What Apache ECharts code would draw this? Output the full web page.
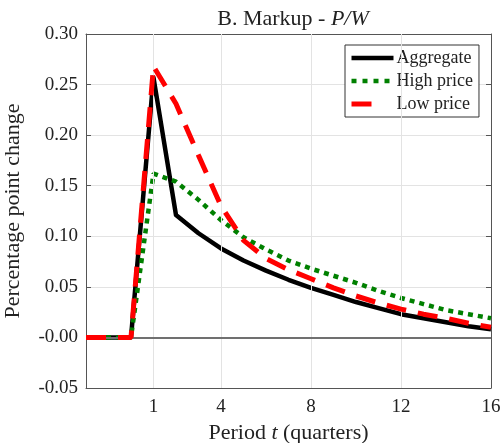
<!DOCTYPE html>
<html>
<head>
<meta charset="utf-8">
<script src="https://cdn.jsdelivr.net/npm/echarts@6/dist/echarts.min.js"></script>
<style>
  html, body { margin: 0; padding: 0; background: #fff; }
  #chart { width: 503px; height: 443px; }
</style>
</head>
<body>
<div id="chart"></div>
<script>
// Quarterly impulse responses of the markup P/W (percentage points)
const periods    = [-2, -1, 0, 1, 2, 3, 4, 5, 6, 7, 8, 9, 10, 11, 12, 13, 14, 15, 16];
const aggregate  = [0, 0, 0, 0.257, 0.121, 0.103, 0.088, 0.076, 0.066, 0.057, 0.049, 0.042, 0.035, 0.029, 0.023, 0.019, 0.015, 0.011, 0.008];
const highPrice  = [0, 0, 0, 0.162, 0.154, 0.136, 0.116, 0.099, 0.087, 0.076, 0.068, 0.061, 0.054, 0.046, 0.039, 0.033, 0.027, 0.023, 0.019];
const lowPrice   = [0, 0, 0, 0.268, 0.231, 0.180, 0.130, 0.096, 0.078, 0.067, 0.058, 0.049, 0.041, 0.034, 0.028, 0.023, 0.019, 0.014, 0.010];

const seriesNames = ['Aggregate', 'High price', 'Low price'];
const xTickValues = [1, 4, 8, 12, 16];
const yTickValues = [-0.05, 0, 0.05, 0.10, 0.15, 0.20, 0.25, 0.30];
const yTickLabels = ['-0.05', '-0.00', '0.05', '0.10', '0.15', '0.20', '0.25', '0.30'];

const FONT = '"Liberation Serif", "DejaVu Serif", serif';
const TEXT = '#222';
const toPairs = ys => periods.map((p, i) => [p, ys[i]]);
// legend markers are hidden so that each entry shows only its line style
const hiddenMarker = { color: 'rgba(0,0,0,0)', borderWidth: 0, opacity: 0 };

const chart = echarts.init(document.getElementById('chart'), null, { renderer: 'canvas' });

const frameColor = '#555';
const gridColor = '#e3e3e3';

chart.setOption({
  animation: false,
  backgroundColor: '#fff',
  title: {
    text: 'B. Markup - {i|P/W}',
    left: 288, textAlign: 'center', top: 3,
    textStyle: {
      fontFamily: FONT, fontSize: 22, fontWeight: 'normal', color: TEXT,
      rich: { i: { fontFamily: FONT, fontSize: 22, fontStyle: 'italic', color: TEXT } }
    }
  },
  grid: { left: 86, right: 12, top: 34, bottom: 55, containLabel: false, outerBoundsMode: 'none' },
  legend: {
    left: 345, top: 45, orient: 'vertical',
    backgroundColor: '#fff', borderColor: '#333', borderWidth: 1,
    padding: [4, 6, 4, 4], itemGap: 5, itemWidth: 42, itemHeight: 14,
    textStyle: { fontFamily: FONT, fontSize: 18, color: TEXT, padding: [0, 0, 0, -2] },
    itemStyle: hiddenMarker,
    data: [
      { name: seriesNames[0], itemStyle: hiddenMarker, lineStyle: { width: 4.5, cap: 'butt' } },
      { name: seriesNames[1], itemStyle: hiddenMarker, lineStyle: { width: 4.5, type: [5, 6], cap: 'butt' } },
      { name: seriesNames[2], itemStyle: hiddenMarker, lineStyle: { width: 5, type: [20, 40], cap: 'butt' } }
    ]
  },
  xAxis: [{
    type: 'value', min: -2, max: 16,
    name: 'Period {i|t} (quarters)', nameLocation: 'middle', nameGap: 34,
    nameTextStyle: {
      fontFamily: FONT, fontSize: 22, color: TEXT,
      rich: { i: { fontFamily: FONT, fontSize: 22, fontStyle: 'italic', color: TEXT } }
    },
    axisLine: { show: true, onZero: false, lineStyle: { color: frameColor, width: 1 } },
    axisTick: { show: true, inside: true, length: 5, customValues: xTickValues, lineStyle: { color: frameColor } },
    axisLabel: { customValues: xTickValues, fontFamily: FONT, fontSize: 19, color: TEXT, margin: 10 },
    splitLine: { show: false }
  }, {
    type: 'value', min: -2, max: 16, position: 'top',
    axisLine: { show: true, onZero: false, lineStyle: { color: frameColor, width: 1 } },
    axisTick: { show: true, inside: true, length: 5, customValues: xTickValues, lineStyle: { color: frameColor } },
    axisLabel: { show: false },
    splitLine: { show: false }
  }],
  yAxis: [{
    type: 'value', min: -0.05, max: 0.30, interval: 0.05,
    name: 'Percentage point change', nameLocation: 'middle', nameGap: 62, nameRotate: 90,
    nameTextStyle: { fontFamily: FONT, fontSize: 22, color: TEXT },
    axisLine: { show: true, onZero: false, lineStyle: { color: frameColor, width: 1 } },
    axisTick: { show: true, inside: true, length: 5, lineStyle: { color: frameColor } },
    axisLabel: {
      fontFamily: FONT, fontSize: 19, color: TEXT, margin: 8,
      formatter: v => {
        const k = yTickValues.findIndex(t => Math.abs(t - v) < 1e-9);
        return k >= 0 ? yTickLabels[k] : '';
      }
    },
    splitLine: { show: true, lineStyle: { color: gridColor, width: 1 } }
  }, {
    type: 'value', min: -0.05, max: 0.30, interval: 0.05, position: 'right',
    axisLine: { show: true, onZero: false, lineStyle: { color: frameColor, width: 1 } },
    axisTick: { show: true, inside: true, length: 5, lineStyle: { color: frameColor } },
    axisLabel: { show: false },
    splitLine: { show: false }
  }],
  series: [
    {
      // vertical grid lines at the period ticks and the zero reference line
      type: 'line', data: [], silent: true, xAxisIndex: 0, yAxisIndex: 0,
      markLine: {
        silent: true, symbol: 'none', label: { show: false },
        data: [
          ...xTickValues.slice(0, -1).map(v => ({ xAxis: v, lineStyle: { color: gridColor, width: 1, type: 'solid' } })),
          { yAxis: 0, lineStyle: { color: '#707070', width: 2, type: 'solid' } }
        ]
      }
    },
    {
      name: seriesNames[0], type: 'line', data: toPairs(aggregate),
      showSymbol: false, symbol: 'circle', z: 3,
      lineStyle: { color: '#000', width: 4.5, cap: 'butt', join: 'round' },
      itemStyle: { color: '#000' }
    },
    {
      name: seriesNames[1], type: 'line', data: toPairs(highPrice),
      showSymbol: false, symbol: 'circle', z: 4,
      lineStyle: { color: '#008000', width: 4.5, type: [5, 5], cap: 'butt' },
      itemStyle: { color: '#008000' }
    },
    {
      name: seriesNames[2], type: 'line', data: toPairs(lowPrice),
      showSymbol: false, symbol: 'circle', z: 5,
      lineStyle: { color: '#ff0000', width: 5, type: [20, 12], cap: 'butt' },
      itemStyle: { color: '#ff0000' }
    }
  ]
});
</script>
</body>
</html>
